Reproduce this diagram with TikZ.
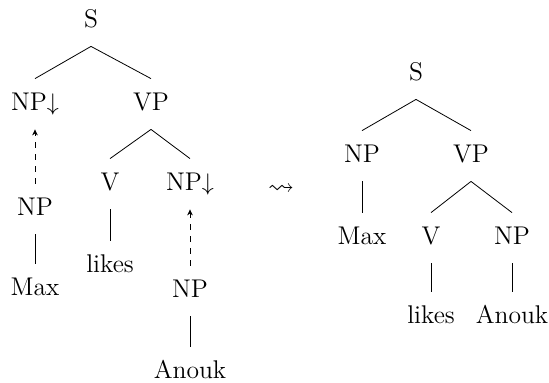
\documentclass[tikz,border=0pt]{standalone}
\usepackage{amsmath,amssymb}
\usetikzlibrary{positioning,arrows.meta}

\tikzset{
  cat/.style={anchor=base,inner xsep=0pt,inner ysep=7.5pt,text height=8pt,text depth=2pt,font=\fontsize{12.8pt}{15pt}\selectfont},
  subst/.style={->,dashed},
}

\begin{document}
\begin{tikzpicture}[>={Stealth[length=3pt,width=2.8pt]},x=0.5pt,y=-0.5pt]
\useasboundingbox (0,0) rectangle (549,382);
% elementary trees
\node[cat] (lS) at (91,27) {S};
\node[cat] (lNPs) at (35,110) {NP$\downarrow$};
\node[cat] (lVP) at (151,110) {VP};
\node[cat] (lV) at (110,190) {V};
\node[cat] (lNPo) at (190,190) {NP$\downarrow$};
\node[cat] (llikes) at (110,272) {likes};
\node[cat] (lNPmax) at (35,215) {NP};
\node[cat] (lMax) at (35,295) {Max};
\node[cat] (lNPan) at (190,297) {NP};
\node[cat] (lAnouk) at (190,378) {Anouk};
\draw (lS.south) -- (lNPs.north);
\draw (lS.south) -- (lVP.north);
\draw (lVP.south) -- (lV.north);
\draw (lVP.south) -- (lNPo.north);
\draw (lV.south) -- (llikes.north);
\draw (lNPmax.south) -- (lMax.north);
\draw (lNPan.south) -- (lAnouk.north);
\draw[subst] (lNPmax.north) -- (lNPs.south);
\draw[subst] (lNPan.north) -- (lNPo.south);
% derived tree
\node[font=\fontsize{13pt}{15pt}\selectfont] (squig) at (281,190) {$\leadsto$};
\node[cat] (rS) at (416,80) {S};
\node[cat] (rNP) at (362,162) {NP};
\node[cat] (rVP) at (471,162) {VP};
\node[cat] (rMax) at (362,244) {Max};
\node[cat] (rV) at (431,244) {V};
\node[cat] (rNPo) at (512,244) {NP};
\node[cat] (rlikes) at (431,323) {likes};
\node[cat] (rAnouk) at (512,323) {Anouk};
\draw (rS.south) -- (rNP.north);
\draw (rS.south) -- (rVP.north);
\draw (rNP.south) -- (rMax.north);
\draw (rVP.south) -- (rV.north);
\draw (rVP.south) -- (rNPo.north);
\draw (rV.south) -- (rlikes.north);
\draw (rNPo.south) -- (rAnouk.north);
\end{tikzpicture}
\end{document}
